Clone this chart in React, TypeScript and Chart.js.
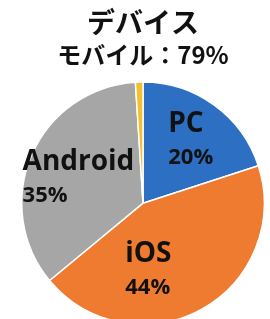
import React, { useEffect, useRef } from "react";
import { Chart, registerables } from "chart.js";

Chart.register(...registerables);

const titleText = "デバイス";
const subtitleText = "モバイル：79%";
const categories = ["PC", "iOS", "Android", "その他"];
const shares = [20, 44, 35, 1];
const pctLabels = ["20%", "44%", "35%", ""];
const colors = ["#2D6FC2", "#EE7B30", "#A6A6A6", "#F2C12E"];
// label placement: angle shift (degrees) from slice middle, radius fraction
const labelAngleShift = [0, 24, 0, 0];
const labelRadius = [0.67, 0.53, 0.58, 0];
const showLabel = [true, true, true, false];

const labelPlugin = {
  id: "sliceLabels",
  afterDatasetsDraw(chart: any) {
    const ctx = chart.ctx;
    const meta = chart.getDatasetMeta(0);
    meta.data.forEach((arc: any, i: number) => {
      if (!showLabel[i]) return;
      const p = arc.getProps(["x", "y", "startAngle", "endAngle", "outerRadius"], true);
      const mid = (p.startAngle + p.endAngle) / 2 + (labelAngleShift[i] * Math.PI) / 180;
      const r = p.outerRadius * labelRadius[i];
      const cx = p.x + Math.cos(mid) * r;
      const cy = p.y + Math.sin(mid) * r + 3;
      ctx.save();
      ctx.fillStyle = "#111111";
      ctx.textBaseline = "middle";
      ctx.textAlign = "left";
      const nameFont = "bold 28px 'Open Sans'";
      const pctFont = "bold 22px 'Open Sans'";
      ctx.font = nameFont;
      const w1 = ctx.measureText(categories[i]).width;
      ctx.font = pctFont;
      const w2 = ctx.measureText(pctLabels[i]).width;
      const left = cx - Math.max(w1, w2) / 2;
      ctx.font = nameFont;
      ctx.fillText(categories[i], left, cy - 16);
      ctx.font = pctFont;
      ctx.fillText(pctLabels[i], left, cy + 17);
      ctx.restore();
    });
  },
};

export default function App() {
  const ref = useRef<HTMLCanvasElement>(null);
  useEffect(() => {
    if (!ref.current) return;
    const chart = new Chart(ref.current, {
      type: "pie",
      data: {
        labels: categories,
        datasets: [
          {
            data: shares,
            backgroundColor: colors,
            borderColor: "#ffffff",
            borderWidth: 1.5,
          },
        ],
      },
      options: {
        responsive: false,
        animation: false,
        layout: { padding: { left: 21, right: 5, top: 0, bottom: 4 } },
        plugins: {
          legend: { display: false },
          tooltip: { enabled: false },
          title: {
            display: true,
            text: titleText,
            color: "#111111",
            font: { size: 28, weight: "bold", family: "'Noto Sans CJK JP'", lineHeight: 1.2 },
            padding: { top: 6, bottom: 0 },
          },
          subtitle: {
            display: true,
            text: subtitleText,
            color: "#111111",
            font: { size: 24, weight: "bold", family: "'Noto Sans CJK JP'", lineHeight: 1.2 },
            padding: { top: 1, bottom: 11 },
          },
        },
      },
      plugins: [labelPlugin],
    });
    return () => chart.destroy();
  }, []);
  return (
    <div style={{ position: "fixed", left: 0, top: 0, width: 270, height: 319, overflow: "hidden", background: "#fff" }}>
      <canvas ref={ref} width={270} height={330} style={{ display: "block" }} />
    </div>
  );
}
